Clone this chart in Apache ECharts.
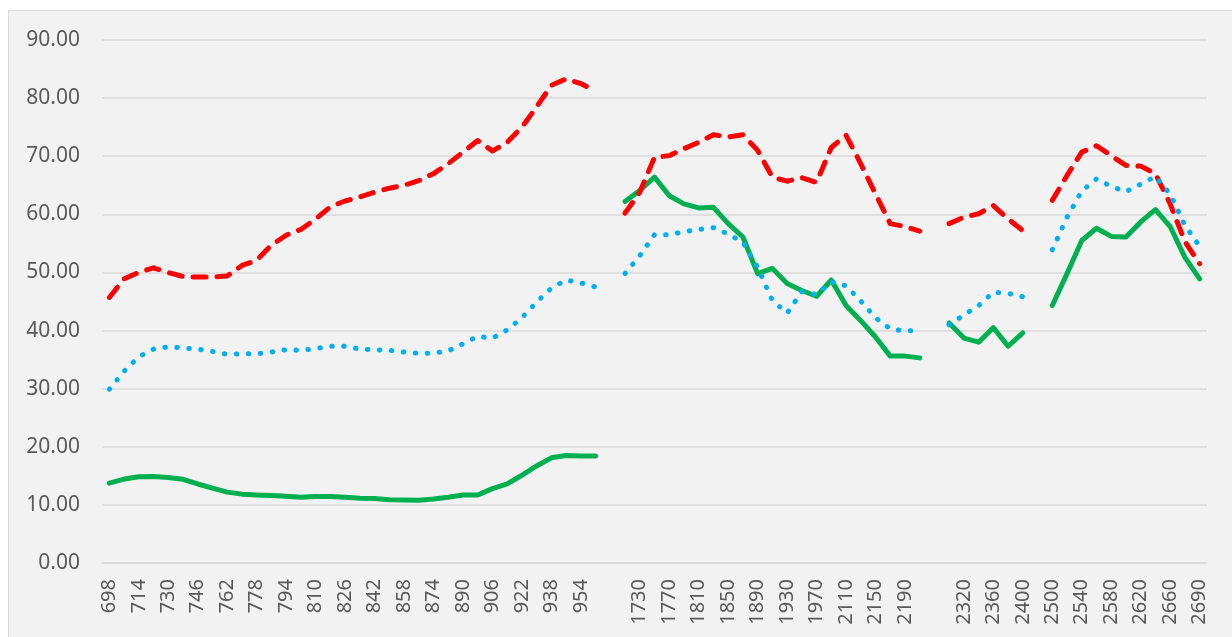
<!DOCTYPE html>
<html>
<head>
<meta charset="utf-8">
<script src="https://cdn.jsdelivr.net/npm/echarts@6/dist/echarts.min.js"></script>
<style>
  html, body { margin: 0; padding: 0; background: #ffffff; overflow: hidden; }
  #bg { position: absolute; left: 8px; top: 10px; width: 1400px; height: 800px; background: #f2f2f2; border: 1px solid #d9d9d9; box-sizing: border-box; }
  #chart { position: absolute; left: 0; top: 0; width: 1232px; height: 637px; }
</style>
</head>
<body>
<div id="bg"></div>
<div id="chart"></div>
<script>
// Category labels (empty strings are the gaps between the four runs)
const categories = [
  '698','706','714','722','730','738','746','754','762','770','778','786','794','802','810','818','826',
  '834','842','850','858','866','874','882','890','898','906','914','922','930','938','946','954','962',
  '',
  '1710','1730','1750','1770','1790','1810','1830','1850','1870','1890','1910','1930','1950','1970',
  '2090','2110','2130','2150','2170','2190','2210',
  '',
  '2300','2320','2340','2360','2380','2400',
  '',
  '2500','2520','2540','2560','2580','2600','2620','2640','2660','2675','2690'
];

// Red dashed series
const redValues = [
  45.7,48.9,50.0,50.8,50.0,49.3,49.2,49.2,49.4,51.2,52.1,54.7,56.4,57.4,59.2,61.3,62.3,
  63.0,63.8,64.5,65.0,65.8,67.0,68.7,70.7,72.7,70.9,72.4,75.0,78.5,82.2,83.3,82.5,81.2,
  null,
  60.2,63.8,69.8,70.1,71.3,72.4,73.7,73.3,73.7,71.0,66.4,65.7,66.3,65.5,71.5,73.6,68.7,63.5,58.4,57.9,57.1,
  null,
  58.4,59.5,60.1,61.5,59.2,57.2,
  null,
  62.4,66.7,70.7,71.8,70.1,68.4,68.3,67.0,61.8,55.3,51.5
];

// Blue dotted series
const blueValues = [
  29.9,33.0,35.5,36.8,37.2,37.0,36.8,36.4,35.9,36.0,36.0,36.3,36.7,36.6,36.9,37.3,37.3,
  36.8,36.7,36.6,36.3,36.1,36.1,36.5,37.7,39.0,38.7,40.1,42.2,44.9,47.3,48.7,48.2,47.5,
  null,
  49.8,52.9,56.5,56.5,57.0,57.4,57.7,56.6,55.2,50.9,45.2,43.0,46.7,46.2,48.4,47.7,45.1,42.2,40.3,39.9,40.1,
  null,
  41.0,42.7,44.3,46.6,46.4,45.8,
  null,
  53.9,59.5,64.0,66.1,64.8,63.9,65.2,66.5,63.5,58.1,54.5
];

// Green solid series
const greenValues = [
  13.75,14.44,14.85,14.9,14.7,14.4,13.6,12.9,12.2,11.85,11.7,11.6,11.5,11.3,11.45,11.45,11.3,
  11.15,11.1,10.9,10.85,10.8,11.0,11.3,11.7,11.7,12.8,13.6,15.1,16.7,18.1,18.5,18.4,18.4,
  null,
  62.2,64.1,66.4,63.2,61.8,61.1,61.2,58.4,56.1,49.8,50.7,48.1,46.9,45.9,48.7,44.3,41.7,38.9,35.6,35.6,35.3,
  null,
  41.3,38.7,38.0,40.5,37.3,39.6,
  null,
  44.3,49.8,55.5,57.6,56.2,56.1,58.7,60.8,57.9,52.6,48.9
];

const yMin = 0, yMax = 90, yStep = 10;

const chart = echarts.init(document.getElementById('chart'), null, { renderer: 'canvas' });
chart.setOption({
  backgroundColor: 'transparent',
  animation: false,
  grid: { left: 102, right: 25, top: 40, bottom: 74, containLabel: false },
  xAxis: {
    type: 'category',
    data: categories,
    boundaryGap: true,
    axisLine: { show: true, lineStyle: { color: '#d9d9d9', width: 1.5 } },
    axisTick: { show: false },
    axisLabel: {
      interval: 1,
      rotate: 90,
      margin: 16,
      color: '#595959',
      fontSize: 20,
      fontFamily: 'Noto Sans'
    },
    splitLine: { show: false }
  },
  yAxis: {
    type: 'value',
    min: yMin,
    max: yMax,
    interval: yStep,
    axisLine: { show: false },
    axisTick: { show: false },
    axisLabel: {
      margin: 22,
      color: '#595959',
      fontSize: 21,
      fontFamily: 'Noto Sans',
      formatter: v => v.toFixed(2)
    },
    splitLine: { show: true, lineStyle: { color: '#d9d9d9', width: 1.5 } }
  },
  series: [
    {
      name: 'green', type: 'line', data: greenValues, symbol: 'none', connectNulls: false,
      lineStyle: { color: '#00b050', width: 5, cap: 'round', join: 'round' }, z: 2
    },
    {
      name: 'red', type: 'line', data: redValues, symbol: 'none', connectNulls: false,
      lineStyle: { color: '#ff0000', width: 5, type: [13, 11], cap: 'round', join: 'round' }, z: 3
    },
    {
      name: 'blue', type: 'line', data: blueValues, symbol: 'none', connectNulls: false,
      lineStyle: { color: '#00b0f0', width: 5, type: [0.5, 11.5], cap: 'round', join: 'round' }, z: 4
    }
  ]
});
</script>
</body>
</html>
